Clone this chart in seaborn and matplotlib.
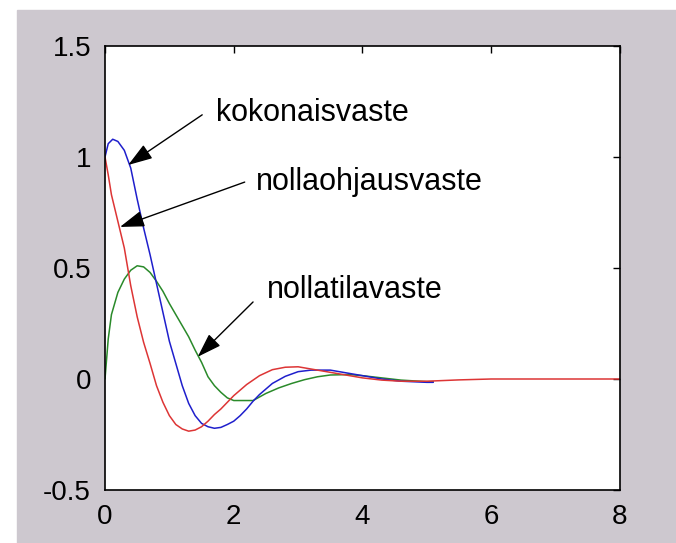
import numpy as np
import pandas as pd
import seaborn as sns
import matplotlib.pyplot as plt
from matplotlib.patches import Rectangle

sns.set_style("white")
plt.rcParams['font.family'] = ['Liberation Sans', 'DejaVu Sans']
plt.rcParams['axes.unicode_minus'] = False
plt.rcParams['text.color'] = 'black'

# zero-input response (red)
t_red = [0, 0.05, 0.1, 0.2, 0.3, 0.4, 0.5, 0.6, 0.7, 0.8, 0.9, 1.0, 1.1, 1.2, 1.3,
         1.4, 1.5, 1.6, 1.7, 1.8, 1.9, 2.0, 2.1, 2.2, 2.4, 2.6, 2.8, 3.0, 3.2,
         3.4, 3.6, 3.8, 4.0, 4.3, 4.6, 5.0, 5.5, 6.0, 8.0]
y_red = [1.0, 0.92, 0.83, 0.71, 0.59, 0.42, 0.28, 0.165, 0.07, -0.03, -0.105,
         -0.165, -0.205, -0.225, -0.235, -0.23, -0.215, -0.19, -0.16, -0.135,
         -0.105, -0.075, -0.05, -0.025, 0.015, 0.042, 0.053, 0.055, 0.045,
         0.035, 0.025, 0.015, 0.005, -0.005, -0.01, -0.01, -0.004, 0.0, 0.0]

# zero-state response (green)
t_green = [0, 0.05, 0.1, 0.2, 0.3, 0.4, 0.5, 0.6, 0.7, 0.8, 0.9, 1.0, 1.1, 1.2,
           1.3, 1.4, 1.5, 1.6, 1.7, 1.8, 1.9, 2.0, 2.3, 2.5, 2.7, 2.9, 3.1, 3.3,
           3.5, 3.8, 4.0, 4.3, 4.6, 5.0, 5.1]
y_green = [0.0, 0.18, 0.29, 0.39, 0.45, 0.49, 0.51, 0.505, 0.48, 0.44, 0.395,
           0.34, 0.29, 0.24, 0.19, 0.13, 0.075, 0.01, -0.03, -0.06, -0.085,
           -0.097, -0.097, -0.065, -0.04, -0.02, -0.003, 0.01, 0.018, 0.02,
           0.015, 0.005, -0.005, -0.012, -0.012]

# total response (blue)
t_blue = [0, 0.05, 0.12, 0.2, 0.3, 0.4, 0.5, 0.6, 0.7, 0.8, 0.9, 1.0, 1.1, 1.2,
          1.3, 1.4, 1.5, 1.6, 1.7, 1.8, 1.9, 2.0, 2.1, 2.2, 2.3, 2.4, 2.6, 2.8,
          3.0, 3.2, 3.5, 3.7, 4.0, 4.3, 4.6, 5.0, 5.1]
y_blue = [1.0, 1.06, 1.08, 1.07, 1.03, 0.95, 0.81, 0.68, 0.56, 0.43, 0.30, 0.17,
          0.07, -0.03, -0.11, -0.165, -0.20, -0.215, -0.222, -0.218, -0.205,
          -0.19, -0.165, -0.135, -0.10, -0.07, -0.02, 0.012, 0.033, 0.04, 0.04,
          0.03, 0.015, 0.0, -0.01, -0.015, -0.015]

x_ticks = [0, 2, 4, 6, 8]
y_ticks = [-0.5, 0, 0.5, 1, 1.5]

fig = plt.figure(figsize=(6.76, 5.43), dpi=100, facecolor='white')
fig.patches.append(Rectangle((17 / 676, 0), 1 - 17 / 676, 533 / 543,
                             transform=fig.transFigure, color='#cdc8cf', zorder=-10))
ax = fig.add_axes([105 / 676, 53 / 543, 515 / 676, 444 / 543])
ax.set_facecolor('white')

sns.lineplot(x=t_green, y=y_green, color='#2a8a2a', lw=1.1, ax=ax)
sns.lineplot(x=t_blue, y=y_blue, color='#1f1fcc', lw=1.1, ax=ax)
sns.lineplot(x=t_red, y=y_red, color='#dd3535', lw=1.1, ax=ax)

ax.set_xlim(0, 8)
ax.set_ylim(-0.5, 1.5)
ax.set_xticks(x_ticks)
ax.set_yticks(y_ticks)
ax.set_xticklabels([str(v) for v in x_ticks])
ax.set_yticklabels(['-0.5', '0', '0.5', '1', '1.5'])
ax.tick_params(direction='in', length=5, width=1, top=True, right=True,
               labelsize=20, pad=10, colors='black')
for s in ax.spines.values():
    s.set_color('black')
    s.set_linewidth(1.2)

arrow = dict(arrowstyle='-|>,head_length=0.6,head_width=0.2', color='black',
             lw=1, mutation_scale=25, shrinkA=0, shrinkB=0)
ax.annotate('', xy=(0.36, 0.964), xytext=(1.51, 1.19), arrowprops=arrow)
ax.annotate('', xy=(0.233, 0.685), xytext=(2.17, 0.887), arrowprops=arrow)
ax.annotate('', xy=(1.44, 0.10), xytext=(2.30, 0.347), arrowprops=arrow)

ax.text(1.73, 1.162, 'kokonaisvaste', fontsize=22, va='baseline', ha='left', color='black')
ax.text(2.34, 0.851, 'nollaohjausvaste', fontsize=22, va='baseline', ha='left', color='black')
ax.text(2.52, 0.365, 'nollatilavaste', fontsize=22, va='baseline', ha='left', color='black')

fig.savefig('out.png', dpi=100)
